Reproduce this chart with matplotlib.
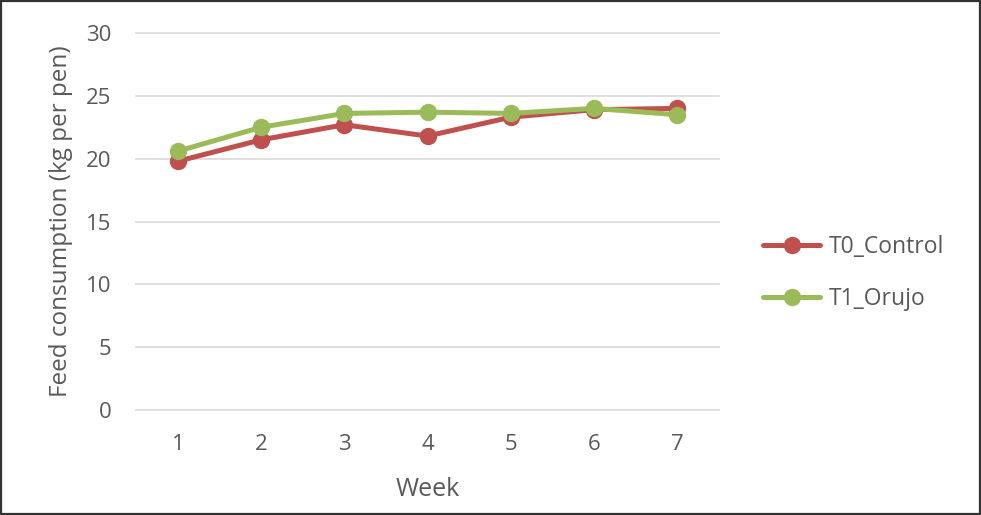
import matplotlib
matplotlib.use("Agg")
import matplotlib.pyplot as plt
from matplotlib.patches import Rectangle

weeks = ["1", "2", "3", "4", "5", "6", "7"]
t0_control = [19.8, 21.5, 22.7, 21.8, 23.3, 23.9, 24.0]
t1_orujo = [20.6, 22.5, 23.6, 23.7, 23.6, 24.0, 23.5]
series_names = ["T0_Control", "T1_Orujo"]
y_ticks = [0, 5, 10, 15, 20, 25, 30]

plt.rcParams['font.family'] = ['Open Sans', 'DejaVu Sans']
txt = '#595959'

W, H = 981, 515
fig = plt.figure(figsize=(W/100, H/100), dpi=100)
ax = fig.add_axes([136.4/W, 1-410/H, (718.6-136.4)/W, (410-33)/H])

x = list(range(len(weeks)))
ax.plot(x, t0_control, color='#C0504D', lw=3.6, marker='o', ms=11.5, label=series_names[0], solid_capstyle='round', zorder=3)
ax.plot(x, t1_orujo, color='#9BBB59', lw=3.6, marker='o', ms=11.5, label=series_names[1], solid_capstyle='round', zorder=4)

ax.set_xlim(-0.5, len(weeks)-0.5)
ax.set_ylim(0, 30)
ax.set_yticks(y_ticks)
ax.set_xticks(x)
ax.set_xticklabels(weeks)
ax.grid(axis='y', color='#D9D9D9', lw=1.2)
for gl in ax.get_ygridlines():
    gl.set_clip_on(False)
ax.set_axisbelow(True)
for s in ax.spines.values():
    s.set_visible(False)
ax.tick_params(length=0, labelsize=16, colors=txt)
ax.tick_params(axis='x', pad=17)
ax.tick_params(axis='y', pad=18)
ax.set_xlabel('Week', fontsize=18, color=txt, labelpad=16)
ax.set_ylabel('Feed consumption (kg per pen)', fontsize=17.5, color=txt, labelpad=9)

leg = fig.legend(loc='center left', bbox_to_anchor=(763/W, 1-273/H), frameon=False,
                 fontsize=16.5, labelcolor=txt, handlelength=2.5, handletextpad=0.35,
                 labelspacing=1.25, borderpad=0, borderaxespad=0)

fig.add_artist(Rectangle((0.8/W, 0.8/H), 1-2.2/W, 1-2.2/H, transform=fig.transFigure,
                         fill=False, edgecolor='#333333', lw=1.6))
fig.savefig('out.png', dpi=100)
